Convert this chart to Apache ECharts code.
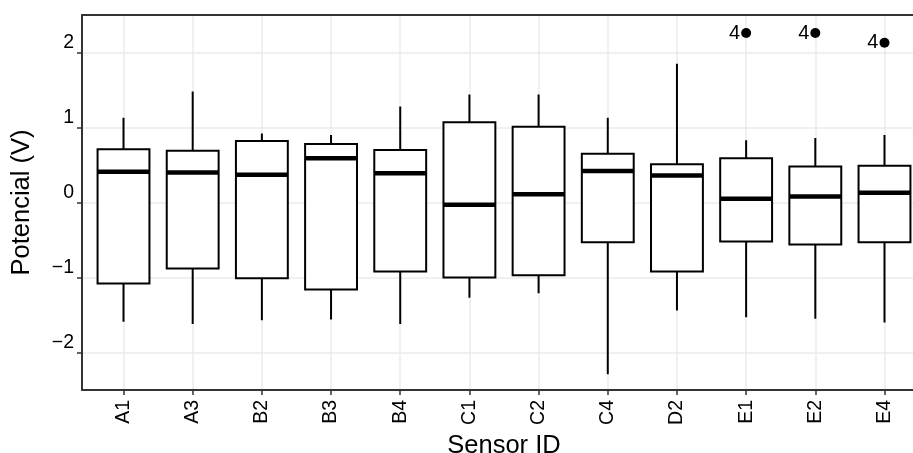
<!DOCTYPE html>
<html>
<head>
<meta charset="utf-8">
<script src="https://cdn.jsdelivr.net/npm/echarts@6/dist/echarts.min.js"></script>
<style>
html,body{margin:0;padding:0;background:#fff;overflow:hidden;width:913px;height:453px}
/* the panel runs past the right edge of the picture, as in the original */
#chart{width:926px;height:453px}
</style>
</head>
<body>
<div id="chart"></div>
<script>
    var sensors = ['A1', 'A3', 'B2', 'B3', 'B4', 'C1', 'C2', 'C4', 'D2', 'E1', 'E2', 'E4'];
    var lower  = [-1.59, -1.62, -1.57, -1.56, -1.62, -1.27, -1.21, -2.29, -1.44, -1.53, -1.55, -1.60];
    var q1     = [-1.08, -0.88, -1.01, -1.16, -0.92, -1.00, -0.97, -0.53, -0.92, -0.52, -0.56, -0.53];
    var median = [0.41, 0.40, 0.37, 0.59, 0.39, -0.03, 0.11, 0.42, 0.36, 0.05, 0.08, 0.13];
    var q3     = [0.71, 0.69, 0.82, 0.78, 0.70, 1.07, 1.01, 0.65, 0.51, 0.59, 0.48, 0.49];
    var upper  = [1.13, 1.48, 0.92, 0.90, 1.28, 1.44, 1.44, 1.13, 1.85, 0.83, 0.86, 0.90];
    var outSensor = ['E1', 'E2', 'E4'];
    var outValue  = [2.26, 2.26, 2.13];
    var outLabel  = ['4', '4', '4'];
    var yTicks = [-2, -1, 0, 1, 2];

    var xTicks = [];
    var boxData = [];
    for (var i = 0; i < sensors.length; i++) {
        xTicks.push(i + 1);
        boxData.push([i + 1, lower[i], q1[i], median[i], q3[i], upper[i]]);
    }
    var outData = [];
    for (var j = 0; j < outSensor.length; j++) {
        outData.push([sensors.indexOf(outSensor[j]) + 1, outValue[j]]);
    }

    // box + whiskers (no caps), thick median
    function renderBox(params, api) {
        var x = api.value(0);
        var half = api.size([0.75, 0])[0] / 2;
        var pLow = api.coord([x, api.value(1)]);
        var pQ1 = api.coord([x, api.value(2)]);
        var pMed = api.coord([x, api.value(3)]);
        var pQ3 = api.coord([x, api.value(4)]);
        var pHigh = api.coord([x, api.value(5)]);
        var line = {stroke: '#000', lineWidth: 2};
        return {
            type: 'group',
            children: [
                {type: 'line', shape: {x1: pHigh[0], y1: pHigh[1], x2: pQ3[0], y2: pQ3[1]}, style: line},
                {type: 'line', shape: {x1: pLow[0], y1: pLow[1], x2: pQ1[0], y2: pQ1[1]}, style: line},
                {type: 'rect', shape: {x: pQ3[0] - half, y: pQ3[1], width: half * 2, height: pQ1[1] - pQ3[1]},
                    style: {fill: '#fff', stroke: '#000', lineWidth: 2}},
                {type: 'line', shape: {x1: pMed[0] - half, y1: pMed[1], x2: pMed[0] + half, y2: pMed[1]},
                    style: {stroke: '#000', lineWidth: 4.5}}
            ]
        };
    }

    function minus(v) {
        return v < 0 ? '\u2212' + (-v) : String(v);
    }

    var gridLine = {show: true, lineStyle: {color: '#ebebeb', width: 1.5}};
    var frameLine = {show: true, onZero: false, lineStyle: {color: '#333', width: 2}};

    var option = {
        animation: false,
        textStyle: {fontFamily: 'Liberation Sans'},
        grid: {left: 82, right: 0, top: 15, bottom: 63, containLabel: false, outerBoundsMode: 'none'},
        xAxis: [{
            type: 'value', min: 0.4, max: 12.6,
            axisLine: frameLine,
            axisTick: {show: true, customValues: xTicks, length: 5, lineStyle: {color: '#333', width: 1.5}},
            axisLabel: {
                customValues: xTicks, rotate: 90, fontSize: 19.5, color: '#000', margin: 10,
                padding: [0, 0, 8, 0],
                formatter: function (v) { return sensors[Math.round(v) - 1]; }
            },
            splitLine: gridLine,
            name: 'Sensor ID', nameLocation: 'middle', nameGap: 39,
            nameTextStyle: {fontSize: 25.5, color: '#000'}
        }, {
            // top edge of the panel
            type: 'value', position: 'top', min: 0.4, max: 12.6,
            axisLine: frameLine, axisTick: {show: false}, axisLabel: {show: false}, splitLine: {show: false}
        }],
        yAxis: {
            type: 'value', min: -2.5, max: 2.5, interval: 0.5,
            axisLine: frameLine,
            axisTick: {show: true, customValues: yTicks, length: 5, lineStyle: {color: '#333', width: 1.5}},
            axisLabel: {
                customValues: yTicks, fontSize: 19.5, color: '#000', margin: 8, verticalAlign: 'bottom',
                formatter: minus
            },
            splitLine: gridLine,
            name: 'Potencial (V)', nameLocation: 'middle', nameGap: 47,
            nameTextStyle: {fontSize: 25.5, color: '#000'}
        },
        series: [
            {
                type: 'custom',
                renderItem: renderBox,
                encode: {x: 0, y: [1, 2, 3, 4, 5]},
                data: boxData
            },
            {
                type: 'scatter',
                symbolSize: 10,
                itemStyle: {color: '#000', opacity: 1},
                label: {
                    show: true, position: 'left', distance: 1, fontSize: 20, color: '#000',
                    formatter: function (p) { return outLabel[p.dataIndex]; }
                },
                data: outData
            }
        ]
    };

    echarts.init(document.getElementById('chart')).setOption(option);
</script>
</body>
</html>
